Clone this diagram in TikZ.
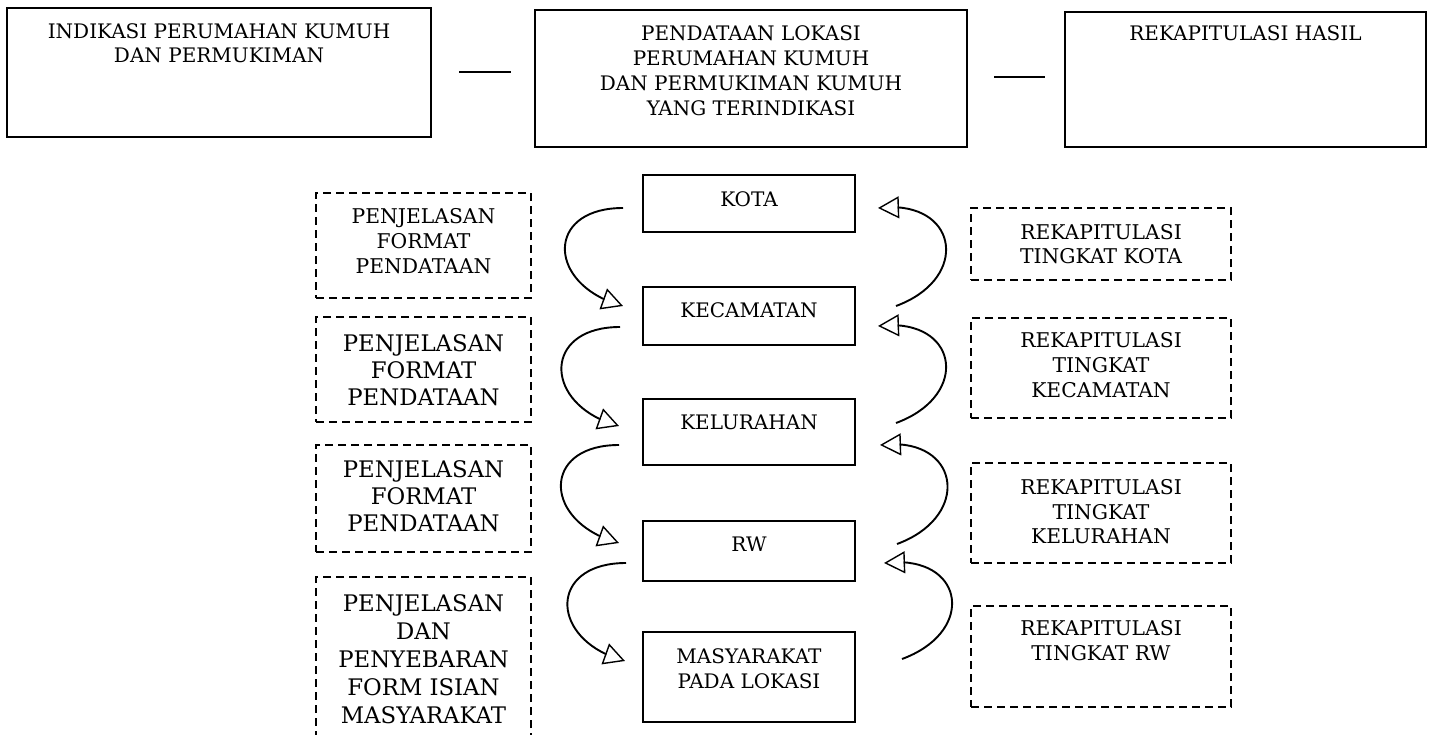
\documentclass[tikz,border=0pt]{standalone}
\usepackage{fontspec}
\setmainfont{DejaVu Serif}
\usetikzlibrary{arrows.meta,bending}
\newcommand{\fsz}[2]{\fontsize{#1}{#2}\selectfont}
\begin{document}
\begin{tikzpicture}[x=1pt,y=-1pt,
  solidbox/.style={draw, line width=1.3pt, inner sep=0pt},
  dashbox/.style={draw, line width=1.4pt, dash pattern=on 8pt off 5pt, inner sep=0pt},
  lbl/.style={anchor=north, inner sep=0pt, align=center},
  curv/.style={line width=1.9pt, -{Triangle[open, length=21pt, width=22pt, line width=1.4pt]}},
  link/.style={line width=1.3pt},
]
\useasboundingbox[fill=white] (0,0) rectangle (1432,734);

% top row
\node[solidbox, minimum width=424pt, minimum height=129pt] (b1) at (219,72.5) {};
\node[solidbox, minimum width=432pt, minimum height=137pt] (b2) at (751,78.5) {};
\node[solidbox, minimum width=361pt, minimum height=135pt] (b3) at (1245.5,79.5) {};
\node[lbl, font=\fsz{20}{24.5}] (t1) at (219,23) {INDIKASI PERUMAHAN KUMUH\\DAN PERMUKIMAN};
\node[lbl, font=\fsz{20}{25}] (t2) at (751,25.5) {PENDATAAN LOKASI\\PERUMAHAN KUMUH\\DAN PERMUKIMAN KUMUH\\YANG TERINDIKASI};
\node[lbl, font=\fsz{20}{24}] (t3) at (1245.5,25) {REKAPITULASI HASIL};
\coordinate (h1a) at (459,72); \coordinate (h1b) at (511,72);
\coordinate (h2a) at (994,77); \coordinate (h2b) at (1045,77);
\draw[link] (h1a) -- (h1b);
\draw[link] (h2a) -- (h2b);

% middle column
\node[solidbox, minimum width=212pt, minimum height=57pt] (kota) at (749,203.5) {};
\node[solidbox, minimum width=212pt, minimum height=58pt] (kec) at (749,316) {};
\node[solidbox, minimum width=212pt, minimum height=66pt] (kel) at (749,432) {};
\node[solidbox, minimum width=212pt, minimum height=60pt] (rw) at (749,551) {};
\node[solidbox, minimum width=212pt, minimum height=90pt] (mas) at (749,677) {};
\node[lbl, font=\fsz{20}{25}] (tkota) at (749,191) {KOTA};
\node[lbl, font=\fsz{20}{25}] (tkec) at (749,302) {KECAMATAN};
\node[lbl, font=\fsz{20}{25}] (tkel) at (749,415) {KELURAHAN};
\node[lbl, font=\fsz{20}{25}] (trw) at (749,537) {RW};
\node[lbl, font=\fsz{20}{25}] (tmas) at (749,648) {MASYARAKAT\\PADA LOKASI};

% left dashed boxes
\node[dashbox, minimum width=215pt, minimum height=105pt] (d1) at (423.5,245.5) {};
\node[dashbox, minimum width=215pt, minimum height=105pt] (d2) at (423.5,369.5) {};
\node[dashbox, minimum width=215pt, minimum height=107pt] (d3) at (423.5,498.5) {};
\node[dashbox, minimum width=215pt, minimum height=183pt] (d4) at (423.5,668.5) {};
\node[lbl, font=\fsz{20.3}{25}] (td1) at (423.5,208.5) {PENJELASAN\\FORMAT\\PENDATAAN};
\node[lbl, font=\fsz{22.8}{27}] (td2) at (423.5,334.7) {PENJELASAN\\FORMAT\\PENDATAAN};
\node[lbl, font=\fsz{22.8}{27}] (td3) at (423.5,460.7) {PENJELASAN\\FORMAT\\PENDATAAN};
\node[lbl, font=\fsz{22.8}{28}] (td4) at (423.5,594.7) {PENJELASAN\\DAN\\PENYEBARAN\\FORM ISIAN\\MASYARAKAT};

% right dashed boxes
\node[dashbox, minimum width=260pt, minimum height=72pt] (r1) at (1101,244) {};
\node[dashbox, minimum width=260pt, minimum height=100pt] (r2) at (1101,368) {};
\node[dashbox, minimum width=260pt, minimum height=100pt] (r3) at (1101,513) {};
\node[dashbox, minimum width=260pt, minimum height=101pt] (r4) at (1101,656.5) {};
\node[lbl, font=\fsz{20.3}{24}] (tr1) at (1101,224.6) {REKAPITULASI\\TINGKAT KOTA};
\node[lbl, font=\fsz{20.3}{25}] (tr2) at (1101,332.6) {REKAPITULASI\\TINGKAT\\KECAMATAN};
\node[lbl, font=\fsz{20.3}{24.5}] (tr3) at (1101,479.6) {REKAPITULASI\\TINGKAT\\KELURAHAN};
\node[lbl, font=\fsz{20.3}{25}] (tr4) at (1101,620.6) {REKAPITULASI\\TINGKAT RW};

% left curved arrows (downwards)
\coordinate (l1s) at (623,208); \coordinate (l1e) at (623,306);
\coordinate (l2s) at (620,327); \coordinate (l2e) at (619,426);
\coordinate (l3s) at (619,445); \coordinate (l3e) at (619,543);
\coordinate (l4s) at (626,563); \coordinate (l4e) at (625,661);
\foreach \a/\b in {l1s/l1e,l2s/l2e,l3s/l3e,l4s/l4e}
  \draw[curv] (\a) .. controls ([xshift=-79pt]\a) and ([xshift=-76pt,yshift=20pt]\b) .. (\b);

% right curved arrows (upwards)
\coordinate (r1s) at (896,306); \coordinate (r1e) at (878,208);
\coordinate (r2s) at (896,423); \coordinate (r2e) at (878,326);
\coordinate (r3s) at (897,544); \coordinate (r3e) at (880,445);
\coordinate (r4s) at (902,659); \coordinate (r4e) at (884,563);
\foreach \a/\b in {r1s/r1e,r2s/r2e,r3s/r3e,r4s/r4e}
  \draw[curv] (\a) .. controls ([xshift=76pt,yshift=28pt]\a) and ([xshift=80pt,yshift=10pt]\b) .. (\b);
\end{tikzpicture}
\end{document}
